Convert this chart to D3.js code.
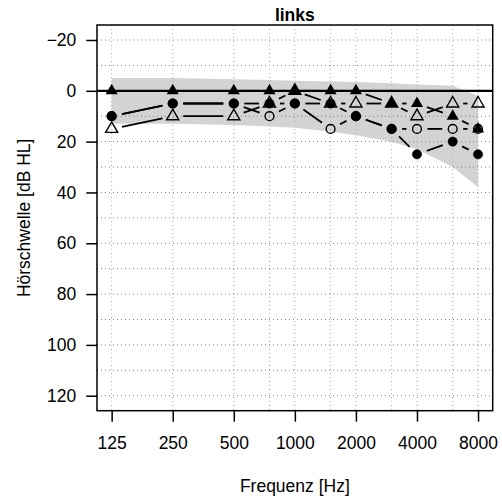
<!DOCTYPE html>
<html>
<head>
<meta charset="utf-8">
<script src="https://cdn.jsdelivr.net/npm/d3@7"></script>
<style>
  html, body { margin: 0; padding: 0; background: #fff; }
  svg { display: block; }
  text { font-family: "Liberation Sans", Arial, Helvetica, sans-serif; fill: #000; }
</style>
</head>
<body>
<svg id="chart" width="502" height="502"></svg>
<script>
// ---------- data ----------
const freqs = [125, 250, 500, 750, 1000, 1500, 2000, 3000, 4000, 6000, 8000];
const xTickFreqs = [125, 250, 500, 1000, 2000, 4000, 8000];
const yTicks = [-20, 0, 20, 40, 60, 80, 100, 120];
const yGrid = [-20, -10, 0, 10, 20, 30, 40, 50, 60, 70, 80, 90, 100, 110, 120];

// grey normal-hearing band (upper / lower edge, dB HL)
const bandUpper = [-5, -5, -4.5, -4.3, -4, -3.7, -3.5, -3, -2.5, -2, 2];
const bandLower = [13, 13, 13.5, 14, 14.5, 16, 17.5, 20, 23, 30, 38];

// measured thresholds (dB HL)
const openCircle   = [10, 5, 5, 10, 5, 15, 10, 15, 15, 15, 15];
const filledCircle = [10, 5, 5, 5, 5, 5, 10, 15, 25, 20, 25];
const openTri      = [15, 10, 10, 5, 0, 5, 5, 5, 10, 5, 5];
const filledTri    = [0, 0, 0, 0, 0, 0, 0, 5, 5, 10, 15];

const seriesList = [
  { values: openCircle,   shape: "circle",   filled: false },
  { values: filledCircle, shape: "circle",   filled: true  },
  { values: openTri,      shape: "triangle", filled: false },
  { values: filledTri,    shape: "triangle", filled: true  }
];

// ---------- layout ----------
const L = 97, R = 492.7, T = 25, B = 410.7;
const ext = 0.24; // octave padding
const x = d3.scaleLog().base(2)
  .domain([125 / Math.pow(2, ext), 8000 * Math.pow(2, ext)])
  .range([L, R]);
const y = d3.scaleLinear().domain([-25.9, 125.9]).range([T, B]);

const svg = d3.select("#chart");
const fs = 17.5;

// band
const bandPts = freqs.map((f, i) => [x(f), y(bandUpper[i])])
  .concat(freqs.map((f, i) => [x(f), y(bandLower[i])]).reverse());
svg.append("path")
  .attr("d", d3.line()(bandPts) + "Z")
  .attr("fill", "#d3d3d3")
  .attr("stroke", "none");

// grid
svg.append("g").selectAll("line").data(yGrid).join("line")
  .attr("x1", L).attr("x2", R)
  .attr("y1", d => y(d)).attr("y2", d => y(d))
  .attr("stroke", "#808080").attr("stroke-width", 1)
  .attr("stroke-dasharray", "1,3");
svg.append("g").selectAll("line").data(freqs).join("line")
  .attr("x1", d => x(d)).attr("x2", d => x(d))
  .attr("y1", T).attr("y2", B)
  .attr("stroke", "#a8a8a8").attr("stroke-width", 1)
  .attr("stroke-dasharray", "1,3");

// zero line
svg.append("line")
  .attr("x1", L).attr("x2", R)
  .attr("y1", y(0)).attr("y2", y(0))
  .attr("stroke", "#000").attr("stroke-width", 2.2);

// series lines (type "b": gaps around points)
const gap = 10.5;
seriesList.forEach(s => {
  const pts = freqs.map((f, i) => [x(f), y(s.values[i])]);
  for (let i = 0; i < pts.length - 1; i++) {
    const [x0, y0] = pts[i], [x1, y1] = pts[i + 1];
    const len = Math.hypot(x1 - x0, y1 - y0);
    if (len <= 2 * gap) continue;
    const ux = (x1 - x0) / len, uy = (y1 - y0) / len;
    svg.append("line")
      .attr("x1", x0 + ux * gap).attr("y1", y0 + uy * gap)
      .attr("x2", x1 - ux * gap).attr("y2", y1 - uy * gap)
      .attr("stroke", "#000").attr("stroke-width", 1.8);
  }
});

// points
const rC = 4.6;
const triR = 7.0, triHW = 6.06, triB = 3.5;
seriesList.forEach(s => {
  const g = svg.append("g");
  freqs.forEach((f, i) => {
    const cx = x(f), cy = y(s.values[i]);
    if (s.shape === "circle") {
      g.append("circle")
        .attr("cx", cx).attr("cy", cy).attr("r", s.filled ? rC : rC - 0.2)
        .attr("fill", s.filled ? "#000" : "none")
        .attr("stroke", "#000").attr("stroke-width", s.filled ? 0.6 : 1.4);
    } else {
      const p = [[cx, cy - triR], [cx + triHW, cy + triB], [cx - triHW, cy + triB]];
      g.append("path")
        .attr("d", d3.line()(p) + "Z")
        .attr("fill", s.filled ? "#000" : "none")
        .attr("stroke", s.filled ? "none" : "#000")
        .attr("stroke-width", 1.4)
        .attr("stroke-linejoin", "miter");
    }
  });
});

// box
svg.append("rect")
  .attr("x", L).attr("y", T).attr("width", R - L).attr("height", B - T)
  .attr("fill", "none").attr("stroke", "#000").attr("stroke-width", 1.5);

// axes
const fmtY = d => d < 0 ? "\u2212" + Math.abs(d) : String(d);
const yAxis = svg.append("g").attr("transform", `translate(${L},0)`)
  .call(d3.axisLeft(y).tickValues(yTicks).tickSize(10.7).tickPadding(10).tickFormat(fmtY));
const xAxis = svg.append("g").attr("transform", `translate(0,${B})`)
  .call(d3.axisBottom(x).tickValues(xTickFreqs).tickSize(11).tickPadding(15).tickFormat(d3.format("d")));
[yAxis, xAxis].forEach(a => {
  a.select(".domain").remove();
  a.selectAll(".tick line").attr("stroke", "#000").attr("stroke-width", 1.5);
  a.selectAll(".tick text").attr("font-size", fs).attr("font-family", "Liberation Sans, Arial, sans-serif").attr("fill", "#000");
});

// titles
svg.append("text").attr("x", (L + R) / 2).attr("y", 20.5)
  .attr("text-anchor", "middle").attr("font-size", fs).attr("font-weight", "bold")
  .text("links");
svg.append("text").attr("x", (L + R) / 2).attr("y", 491.5)
  .attr("text-anchor", "middle").attr("font-size", fs)
  .text("Frequenz [Hz]");
svg.append("text")
  .attr("transform", `translate(30,${(T + B) / 2}) rotate(-90)`)
  .attr("text-anchor", "middle").attr("font-size", fs)
  .text("Hörschwelle [dB HL]");
</script>
</body>
</html>
